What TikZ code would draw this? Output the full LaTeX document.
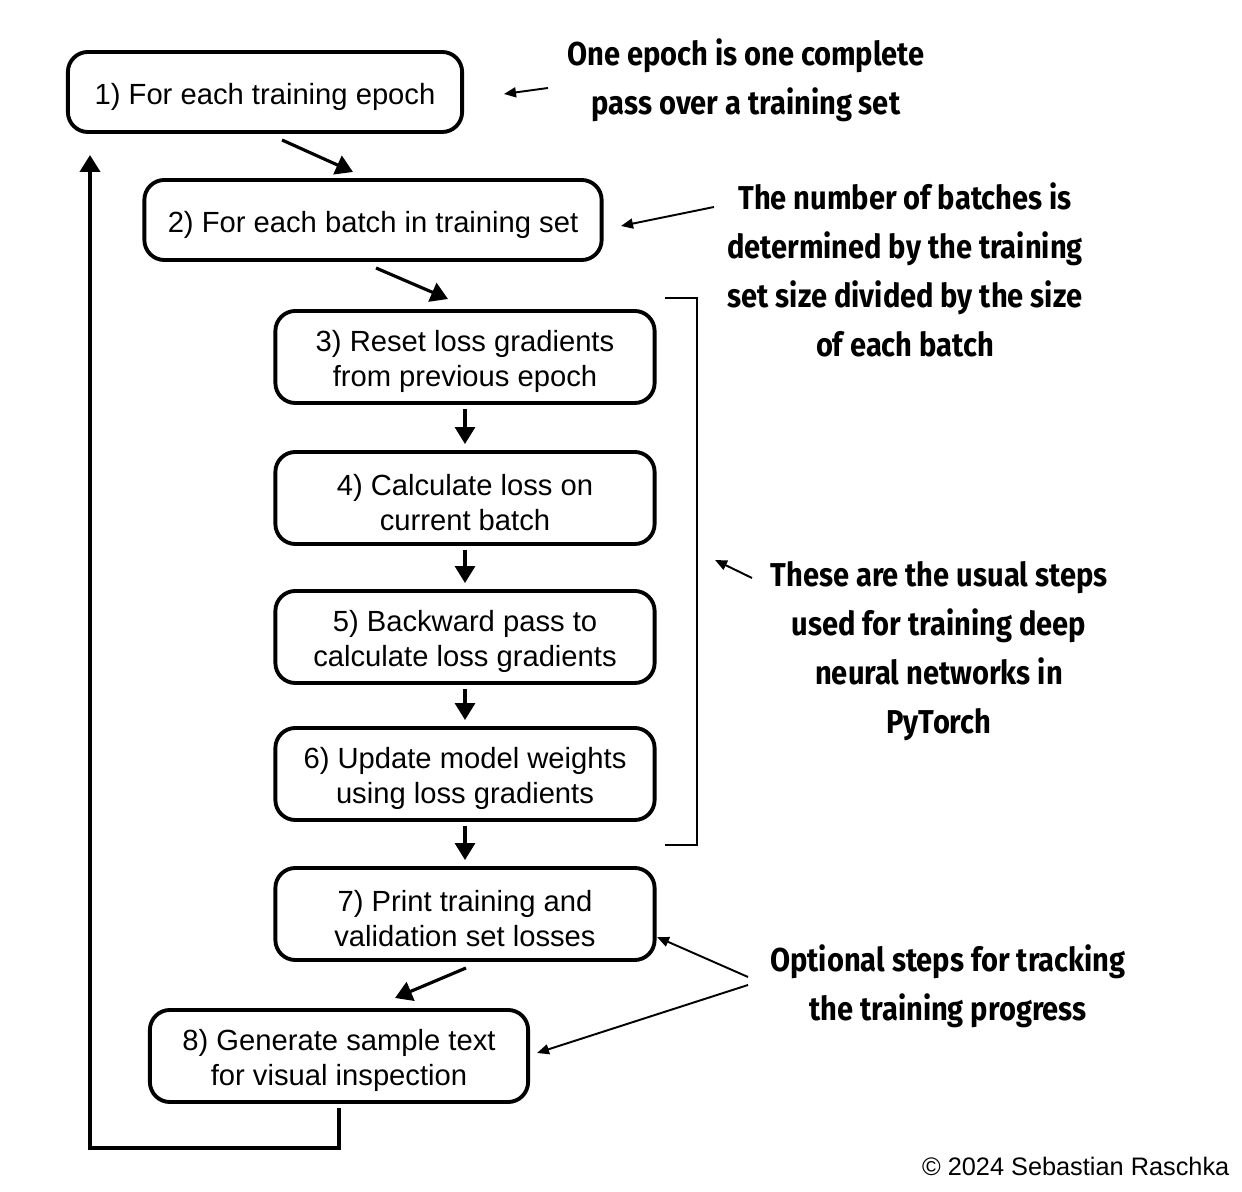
\documentclass[tikz,border=0pt]{standalone}
\usepackage{fontspec}
\setmainfont{Liberation Sans}
\newfontfamily\notefont{Fira Sans}[FakeStretch=0.88]
\usetikzlibrary{arrows.meta}

\newcommand\boxstrut{\rule{0pt}{8.6pt}}

\tikzset{
  stepbox/.style={draw, line width=1.1pt, rounded corners=0.2cm, align=center,
    inner sep=0pt, font=\fontsize{8.3}{10}\selectfont},
  flow/.style={line width=0.9pt, -{Triangle[length=0.17cm, width=0.2cm]}},
  note/.style={align=center, font=\notefont\bfseries\fontsize{9.4}{13.9}\selectfont},
  notearrow/.style={line width=0.55pt, -{Triangle[length=0.12cm, width=0.1cm]}}
}

\begin{document}
\begin{tikzpicture}[x=0.01cm, y=-0.01cm]
    \useasboundingbox (0,0) rectangle (1242,1192);

    % Steps
    \node[stepbox, minimum width=3.94cm, minimum height=0.8cm] (epoch) at (265,92) {\boxstrut 1) For each training epoch};
    \node[stepbox, minimum width=4.57cm, minimum height=0.8cm] (batch) at (373,220) {\boxstrut 2) For each batch in training set};
    \node[stepbox, minimum width=3.79cm, minimum height=0.92cm] (reset) at (465,357) {\boxstrut 3) Reset loss gradients\\from previous epoch};
    \node[stepbox, minimum width=3.79cm, minimum height=0.92cm] (calc) at (465,498) {\boxstrut 4) Calculate loss on\\current batch};
    \node[stepbox, minimum width=3.79cm, minimum height=0.92cm] (backward) at (465,637) {\boxstrut 5) Backward pass to\\calculate loss gradients};
    \node[stepbox, minimum width=3.79cm, minimum height=0.92cm] (update) at (465,774) {\boxstrut 6) Update model weights\\using loss gradients};
    \node[stepbox, minimum width=3.79cm, minimum height=0.92cm] (print) at (465,914) {\boxstrut 7) Print training and\\validation set losses};
    \node[stepbox, minimum width=3.78cm, minimum height=0.92cm] (sample) at (339,1056) {\boxstrut 8) Generate sample text\\for visual inspection};

    % Flow between steps
    \coordinate (e1) at (282,140);  \coordinate (e2) at (353,172);
    \coordinate (b1) at (376,268);  \coordinate (b2) at (448,299);
    \coordinate (p1) at (466,968);  \coordinate (p2) at (395,998);
    \draw[flow] (e1) -- (e2);
    \draw[flow] (b1) -- (b2);
    \draw[flow] ([yshift=-0.04cm]reset.south) -- ([yshift=0.06cm]calc.north);
    \draw[flow] ([yshift=-0.04cm]calc.south) -- ([yshift=0.06cm]backward.north);
    \draw[flow] ([yshift=-0.04cm]backward.south) -- ([yshift=0.06cm]update.north);
    \draw[flow] ([yshift=-0.04cm]update.south) -- ([yshift=0.06cm]print.north);
    \draw[flow] (p1) -- (p2);

    % Loop back to the first step
    \coordinate (loopcorner) at (90,1148);
    \coordinate (loopend) at (90,155);
    \draw[flow, line width=1.1pt] ([yshift=-0.04cm]sample.south) |- (loopcorner) -- (loopend);

    % Bracket around the usual steps
    \draw[line width=0.6pt] (665,298) -- (697,298) -- (697,845) -- (665,845);

    % Notes
    \node[note] (epochnote) at (746,80) {One epoch is one complete\\pass over a training set};
    \node[note] (batchnote) at (905,270) {The number of batches is\\determined by the training\\set size divided by the size\\of each batch};
    \node[note] (usualnote) at (939,651) {These are the usual steps\\used for training deep\\neural networks in\\PyTorch};
    \node[note] (optnote) at (948,986) {Optional steps for tracking\\the training progress};

    \coordinate (n1) at (548,88);   \coordinate (n1e) at (504,94);
    \coordinate (n2) at (714,207);  \coordinate (n2e) at (621,226);
    \coordinate (n3) at (752,578);  \coordinate (n3e) at (715,560);
    \coordinate (n4) at (748,977);  \coordinate (n4e) at (657,937);
    \coordinate (n5) at (748,985);  \coordinate (n5e) at (537,1053);
    \draw[notearrow] (n1) -- (n1e);
    \draw[notearrow] (n2) -- (n2e);
    \draw[notearrow] (n3) -- (n3e);
    \draw[notearrow] (n4) -- (n4e);
    \draw[notearrow] (n5) -- (n5e);

    % Credit
    \node[font=\fontsize{7.2}{9}\selectfont, anchor=east, inner sep=0pt] (credit) at (1230,1166) {© 2024 Sebastian Raschka};
\end{tikzpicture}
\end{document}
